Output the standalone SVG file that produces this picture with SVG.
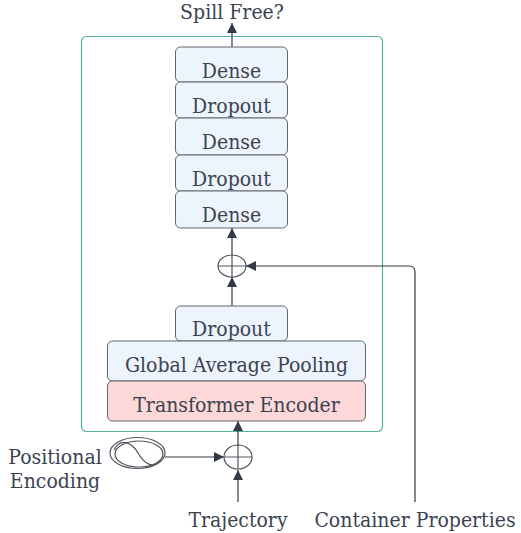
<svg xmlns="http://www.w3.org/2000/svg" width="521" height="533" viewBox="0 0 521 533">
<defs>
<style>
.t{font-family:"DejaVu Serif Condensed","DejaVu Serif","Liberation Serif",serif;font-stretch:condensed;font-size:21px;fill:#3c4350;text-anchor:middle}
.box{fill:#edf4fd;stroke:#61666e;stroke-width:1}
.red{fill:#fdd8d8;stroke:#61666e;stroke-width:1}
.ln{fill:none;stroke:#343b45;stroke-width:1.2}
.op{fill:none;stroke:#51565e;stroke-width:1.2}
</style>
<marker id="ah" viewBox="0 0 10 10" refX="10" refY="5" markerWidth="10" markerHeight="10" markerUnits="userSpaceOnUse" orient="auto">
<path d="M0,0 L10,5 L0,10 z" fill="#343b45"/>
</marker>
</defs>
<rect id="container" x="81.5" y="36.5" width="301" height="395" rx="5" fill="none" stroke="#4fb3a0" stroke-width="1.2"/>
<g id="connectors">
<line class="ln" x1="232" y1="47" x2="232" y2="23" marker-end="url(#ah)"/>
<line class="ln" x1="232" y1="255" x2="232" y2="228" marker-end="url(#ah)"/>
<line class="ln" x1="232" y1="306" x2="232" y2="277" marker-end="url(#ah)"/>
<path class="ln" d="M415,502 V272 Q415,266 409,266 H246" marker-end="url(#ah)"/>
<line class="ln" x1="238" y1="446" x2="238" y2="421" marker-end="url(#ah)"/>
<line class="ln" x1="238" y1="502" x2="238" y2="470" marker-end="url(#ah)"/>
<line class="ln" x1="165" y1="457" x2="224" y2="457" marker-end="url(#ah)"/>
</g>
<text class="t" x="232" y="19">Spill Free?</text>
<g id="dense1"><rect class="box" x="175.5" y="47" width="112" height="35" rx="5"/><text class="t" x="231.5" y="78">Dense</text></g>
<g id="dropout1"><rect class="box" x="175.5" y="82" width="112" height="36" rx="5"/><text class="t" x="231.5" y="113">Dropout</text></g>
<g id="dense2"><rect class="box" x="175.5" y="118" width="112" height="37" rx="5"/><text class="t" x="231.5" y="149">Dense</text></g>
<g id="dropout2"><rect class="box" x="175.5" y="155" width="112" height="36" rx="5"/><text class="t" x="231.5" y="186">Dropout</text></g>
<g id="dense3"><rect class="box" x="175.5" y="191" width="112" height="37" rx="5"/><text class="t" x="231.5" y="222">Dense</text></g>
<g id="add1"><ellipse class="op" cx="232" cy="266" rx="14" ry="11"/><path class="op" d="M218,266 H246 M232,255 V277"/></g>
<g id="dropout3"><rect class="box" x="175.5" y="306" width="112" height="35" rx="5"/><text class="t" x="231.5" y="336">Dropout</text></g>
<g id="gap"><rect class="box" x="107.5" y="341" width="258" height="40" rx="5"/><text class="t" x="236.5" y="372">Global Average Pooling</text></g>
<g id="transformer"><rect class="red" x="107.5" y="381" width="258" height="40" rx="5"/><text class="t" x="236.5" y="412">Transformer Encoder</text></g>
<g id="add2"><ellipse class="op" cx="238" cy="457" rx="14" ry="12"/><path class="op" d="M224,457 H252 M238,445 V469"/></g>
<g id="posenc">
<ellipse class="op" cx="137.5" cy="453" rx="27.5" ry="15.5"/>
<ellipse class="op" cx="139" cy="454" rx="24" ry="13"/>
<path class="op" d="M114,450 C121,436 133,444 138,453 C143,462 153,471 161,459"/>
<text class="t" x="55" y="464">Positional</text>
<text class="t" x="55" y="488">Encoding</text>
</g>
<g id="trajectory"><text class="t" x="238" y="527">Trajectory</text></g>
<g id="container_props"><text class="t" x="415" y="527">Container Properties</text></g>
</svg>
